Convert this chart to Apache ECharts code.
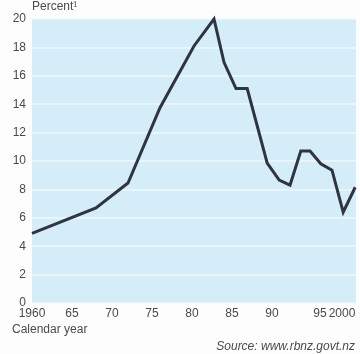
<!DOCTYPE html>
<html>
<head>
<meta charset="utf-8">
<script src="https://cdn.jsdelivr.net/npm/echarts@6/dist/echarts.min.js"></script>
<style>
html, body { margin: 0; padding: 0; background: #fdfdfd; }
#container { width: 360px; height: 354px; }
</style>
</head>
<body>
<div id="container"></div>
<script>
var years = [1960, 1968, 1972, 1976, 1980.25, 1982.75, 1984, 1985.5, 1986.9, 1989.4, 1990.9, 1992.25, 1993.6, 1994.75, 1996.1, 1997.5, 1998.9, 2000.4];
var percent = [4.9, 6.7, 8.45, 13.75, 18.1, 20.0, 16.95, 15.1, 15.1, 9.85, 8.65, 8.3, 10.7, 10.7, 9.8, 9.35, 6.4, 8.15];
var yearLabels = {1960: '1960', 1965: '65', 1970: '70', 1975: '75', 1980: '80', 1985: '85', 1990: '90', 1995: '{a|95}', 2000: '{b|2000}'};

var points = years.map(function (y, i) { return [y, percent[i]]; });

var dom = document.getElementById("container");
var myChart = echarts.init(dom);
var labelColor = '#4a4a4a';
var font = 'Liberation Sans, Arial, sans-serif';

option = {
    backgroundColor: '#fdfdfd',
    animation: false,
    textStyle: { fontFamily: font },
    grid: {
        left: 32,
        right: 4,
        top: 19,
        bottom: 51,
        show: true,
        backgroundColor: '#d5edf8',
        borderWidth: 0
    },
    title: [
        {
            text: 'Percent¹',
            left: 32,
            top: 1,
            padding: 0,
            textStyle: { fontSize: 12, fontWeight: 'normal', color: labelColor, fontFamily: font }
        },
        {
            text: 'Calendar year',
            left: 12,
            top: 324,
            padding: 0,
            textStyle: { fontSize: 12, fontWeight: 'normal', color: labelColor, fontFamily: font }
        },
        {
            text: 'Source: www.rbnz.govt.nz',
            right: 5,
            top: 341,
            padding: 0,
            textStyle: { fontSize: 12, fontWeight: 'normal', fontStyle: 'italic', color: labelColor, fontFamily: font }
        }
    ],
    xAxis: {
        type: 'value',
        min: 1960,
        max: 2000.5,
        interval: 5,
        axisLine: { show: false },
        axisTick: { show: false },
        splitLine: { show: false },
        axisLabel: {
            color: labelColor,
            fontSize: 12,
            margin: 5,
            formatter: function (v) { return yearLabels[v] || ''; },
            rich: {
                a: { fontSize: 12, color: labelColor, padding: [0, 0, 0, 16] },
                b: { fontSize: 12, color: labelColor, padding: [0, 20, 0, 0] }
            }
        }
    },
    yAxis: {
        type: 'value',
        min: 0,
        max: 20,
        interval: 2,
        axisLine: { show: false },
        axisTick: { show: false },
        splitLine: { lineStyle: { color: '#eef8fc', width: 1.5 } },
        axisLabel: { color: labelColor, fontSize: 12, margin: 6, padding: [4, 0, 0, 0] }
    },
    series: [
        {
            type: 'line',
            data: points,
            symbol: 'none',
            clip: false,
            lineStyle: { color: '#2f3540', width: 3, join: 'miter' }
        }
    ]
};

if (option && typeof option === "object") {
    myChart.setOption(option, true);
}
</script>
</body>
</html>
